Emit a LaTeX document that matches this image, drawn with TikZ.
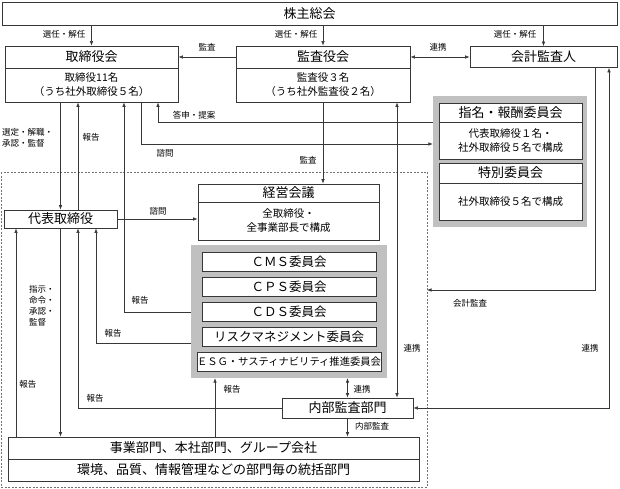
\documentclass[tikz,border=0pt]{standalone}
\usepackage{fontspec}
\setmainfont{Noto Sans CJK JP}
\usetikzlibrary{arrows.meta}
\definecolor{lineC}{RGB}{55,55,55}
\definecolor{grpC}{RGB}{192,192,192}
\tikzset{
  box/.style={draw=lineC, fill=white, line width=0.7pt, inner sep=0pt},
  ttl/.style={box, font=\fontsize{13}{13}\selectfont},
  cmt/.style={box, font=\fontsize{12.5}{13}\selectfont, minimum width=174pt, minimum height=19pt},
  bdy/.style={box, align=center, font=\fontsize{10.5}{14}\selectfont},
  grp/.style={fill=grpC, inner sep=0pt},
  lbl/.style={font=\fontsize{8.5}{11}\selectfont, inner sep=0pt},
  arr/.style={draw=lineC, line width=0.6pt, -{Latex[length=4.5pt,width=3.5pt]}},
  darr/.style={draw=lineC, line width=0.6pt, {Latex[length=4.5pt,width=3.5pt]}-{Latex[length=4.5pt,width=3.5pt]}},
}
\begin{document}
\begin{tikzpicture}[x=1pt,y=-1pt]
\useasboundingbox (0,0) rectangle (620,489);

%Dashed Rect [operations area]
\draw[lineC!70, line width=0.6pt, dash pattern={on 2pt off 1.5pt}] (1,172) rectangle (427,487);

%Lanes for the vertical connectors
\coordinate (l16) at (16,0);
\coordinate (l78) at (78,0);
\coordinate (l96) at (96,0);
\coordinate (l124) at (124,0);
\coordinate (l141) at (141,0);
\coordinate (l158) at (158,0);
\coordinate (l215) at (215,0);
\coordinate (l397) at (397,0);
\coordinate (l595) at (595,0);
\coordinate (l609) at (609,0);
\coordinate (h122) at (0,122);
\coordinate (h144) at (0,144);
\coordinate (h312) at (0,312);
\coordinate (h343) at (0,343);
\coordinate (audEnd) at (427,290);

%Shape: Rectangle [shareholders]
\node[ttl, minimum width=615pt, minimum height=23pt] (soukai) at (309.5,13.5) {株主総会};
%Shape: Rectangle [board]
\node[bdy, minimum width=173pt, minimum height=34pt] (torB) at (91.5,85) {取締役11名\\（うち社外取締役５名）};
\node[ttl, minimum width=173pt, minimum height=22pt] (torT) at (91.5,57) {取締役会};
%Shape: Rectangle [auditors]
\node[bdy, minimum width=174pt, minimum height=34pt] (kanB) at (323,85) {監査役３名\\（うち社外監査役２名）};
\node[ttl, minimum width=174pt, minimum height=22pt] (kanT) at (323,57) {監査役会};
%Shape: Rectangle [accounting auditor]
\node[ttl, minimum width=147pt, minimum height=21pt] (kaikei) at (543.5,57) {会計監査人};
%Shape: Rectangle [representative]
\node[ttl, minimum width=113pt, minimum height=18pt] (daihyo) at (60.5,219) {代表取締役};
%Shape: Rectangle [management meeting]
\node[bdy, minimum width=181pt, minimum height=38pt] (keieiB) at (288.5,221) {全取締役・\\全事業部長で構成};
\node[ttl, minimum width=181pt, minimum height=18pt] (keieiT) at (288.5,193) {経営会議};

%Shape: Group [nomination committees]
\node[grp, minimum width=154pt, minimum height=131pt] (nomGrp) at (510,161.5) {};
\node[bdy, minimum width=143pt, minimum height=37pt] (nomB) at (510.5,140.5) {代表取締役１名・\\社外取締役５名で構成};
\node[ttl, minimum width=143pt, minimum height=19pt] (nomT) at (510.5,112.5) {指名・報酬委員会};
\node[bdy, minimum width=143pt, minimum height=37pt] (tokB) at (510.5,201.5) {社外取締役５名で構成};
\node[ttl, minimum width=143pt, minimum height=20pt] (tokT) at (510.5,173) {特別委員会};

%Shape: Group [committees]
\node[grp, minimum width=196pt, minimum height=133pt] (comGrp) at (289,311.5) {};
\node[cmt] (cms) at (289,261.5) {ＣＭＳ委員会};
\node[cmt] (cps) at (289,286.5) {ＣＰＳ委員会};
\node[cmt] (cds) at (289,311.5) {ＣＤＳ委員会};
\node[cmt] (risk) at (289,336.5) {リスクマネジメント委員会};
\node[cmt, font=\fontsize{10.3}{11}\selectfont] (esg) at (289,361.5) {ＥＳＧ・サスティナビリティ推進委員会};

%Shape: Rectangle [internal audit]
\node[ttl, minimum width=131pt, minimum height=20pt] (naibu) at (347.5,408) {内部監査部門};
%Shape: Rectangle [divisions]
\node[ttl, minimum width=411pt, minimum height=22pt] (jigyoT) at (213.5,448) {事業部門、本社部門、グループ会社};
\node[ttl, minimum width=411pt, minimum height=22pt] (jigyoB) at (213.5,470) {環境、品質、情報管理などの部門毎の統括部門};

%Straight Lines [top level]
\draw[arr] (soukai.south -| torT.north) -- (torT.north);
\draw[arr] (soukai.south -| kanT.north) -- (kanT.north);
\draw[arr] (soukai.south -| kaikei.north) -- (kaikei.north);
\draw[arr] (kanT.west) -- (torT.east);
\draw[darr] (kanT.east) -- (kaikei.west);
%Straight Lines [board]
\draw[arr] (torB.south -| daihyo.north) -- (daihyo.north);
\draw[arr] (daihyo.north -| l78) -- (torB.south -| l78);
\draw[arr] (comGrp.west |- h312) -| (torB.south -| l124);
\draw[arr] (torB.south -| l141) |- (nomGrp.west |- h144);
\draw[arr] (nomGrp.west |- h122) -| (torB.south -| l158);
%Straight Lines [auditors]
\draw[arr] (kanB.south) -- (kanB.south |- keieiT.north);
\draw[darr] (kanB.south -| l397) -- (naibu.north -| l397);
\draw[arr] (kaikei.south -| l595) |- (audEnd);
\draw[darr] (naibu.east) -| (kaikei.south -| l609);
%Straight Lines [representative]
\draw[arr] (daihyo.east) -- (daihyo.east -| keieiB.west);
\draw[arr] (comGrp.west |- h343) -| (daihyo.south -| l96);
\draw[arr] (naibu.west) -| (daihyo.south -| l78);
\draw[arr] (jigyoT.north -| l16) -- (daihyo.south -| l16);
\draw[arr] (daihyo.south) -- (daihyo.south |- jigyoT.north);
%Straight Lines [divisions]
\draw[arr] (jigyoT.north -| l215) -- (comGrp.south -| l215);
\draw[darr] (naibu.north) -- (naibu.north |- comGrp.south);
\draw[arr] (naibu.south) -- (naibu.south |- jigyoT.north);

% Text Node
\node[lbl] (tSel1) at (64,34) {選任・解任};
\node[lbl] (tSel2) at (296,34) {選任・解任};
\node[lbl] (tSel3) at (515,34) {選任・解任};
\node[lbl] (tKan1) at (207,47) {監査};
\node[lbl] (tRen1) at (438,47) {連携};
\node[lbl, anchor=west, align=left] (tSentei) at (2,138) {選定・解職・\\承認・監督};
\node[lbl] (tHok1) at (91,137) {報告};
\node[lbl] (tToshin) at (194,115) {答申・提案};
\node[lbl] (tShi1) at (165,153) {諮問};
\node[lbl] (tKan2) at (308,160) {監査};
\node[lbl] (tShi2) at (158,211) {諮問};
\node[lbl] (tHok2) at (140,300) {報告};
\node[lbl] (tKaikei) at (470,303) {会計監査};
\node[lbl] (tHok3) at (113,333) {報告};
\node[lbl, anchor=west, align=left] (tShiji) at (29,306) {指示・\\命令・\\承認・\\監督};
\node[lbl] (tRen2) at (412,348) {連携};
\node[lbl] (tRen3) at (590,348) {連携};
\node[lbl] (tHok4) at (28,384) {報告};
\node[lbl] (tHok5) at (232,389) {報告};
\node[lbl] (tRen4) at (362,389) {連携};
\node[lbl] (tHok6) at (95,398) {報告};
\node[lbl] (tNaibu) at (372,426) {内部監査};
\end{tikzpicture}
\end{document}
